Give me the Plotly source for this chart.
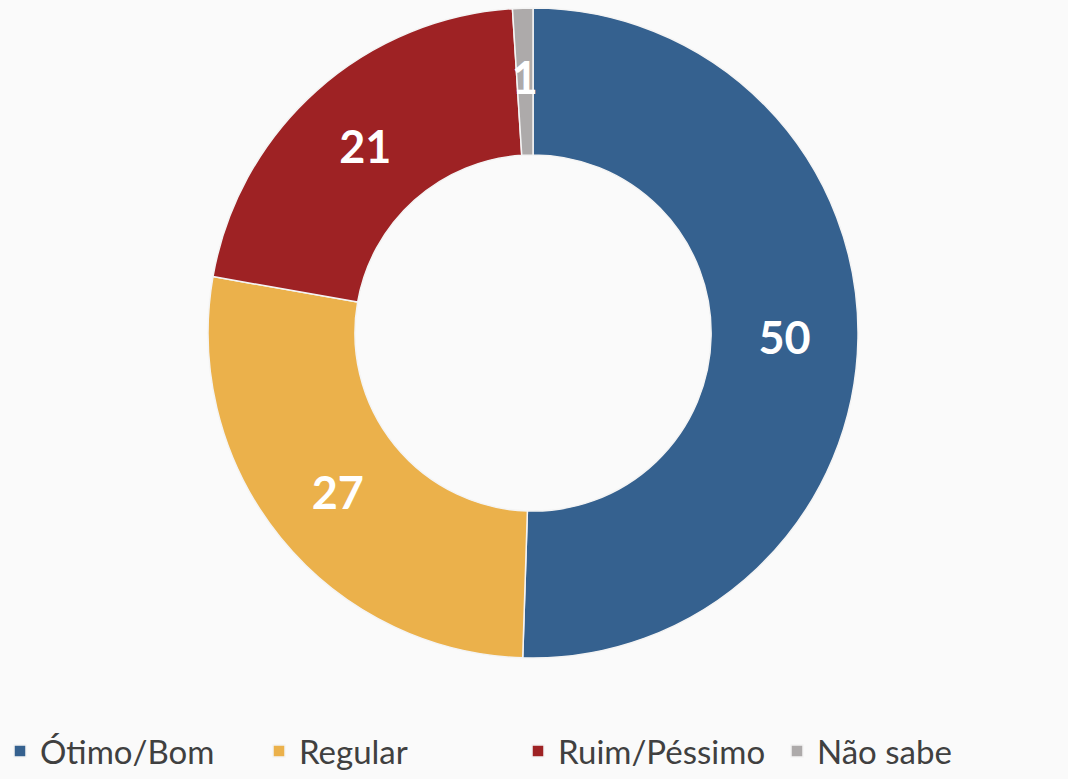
import plotly.graph_objects as go

categorias = ["Ótimo/Bom", "Regular", "Ruim/Péssimo", "Não sabe"]
valores = [50, 27, 21, 1]
cores = ["#35618F", "#EBB14B", "#9E2224", "#ADAAAA"]

dominio = dict(x=[0.1948, 0.8034], y=[0.1553, 0.9897])
# anel estreito no meio da rosca, usado só para posicionar o rótulo da fatia fina
dominio_meio = dict(x=[0.2519, 0.7463], y=[0.2336, 0.9114])
fonte_rotulo = dict(family="Lato", size=45, color="white", weight="bold")

fig = go.Figure()
fig.add_trace(go.Pie(
    labels=categorias,
    values=valores,
    sort=False,
    direction="clockwise",
    rotation=0,
    hole=0.548,
    marker=dict(colors=cores, line=dict(color="#F4F4F4", width=1.5)),
    text=[str(v) if v > 5 else "" for v in valores],
    textinfo="text",
    textposition="inside",
    insidetextorientation="horizontal",
    textfont=fonte_rotulo,
    domain=dominio,
))
fig.add_trace(go.Pie(
    labels=categorias,
    values=valores,
    sort=False,
    direction="clockwise",
    rotation=0,
    hole=0.83,
    marker=dict(colors=["rgba(0,0,0,0)"] * 4, line=dict(width=0)),
    text=[str(v) if v <= 5 else "" for v in valores],
    textinfo="text",
    textposition="inside",
    insidetextorientation="horizontal",
    textfont=fonte_rotulo,
    domain=dominio_meio,
    showlegend=False,
    hoverinfo="skip",
))

fig.update_layout(
    width=1068,
    height=779,
    margin=dict(l=0, r=0, t=0, b=0),
    paper_bgcolor="#FAFAFA",
    plot_bgcolor="#FAFAFA",
    uniformtext=dict(minsize=45, mode="show"),
    legend=dict(
        orientation="h",
        x=0.0,
        y=0.0,
        xanchor="left",
        yanchor="bottom",
        font=dict(family="Lato", size=33, color="#404040"),
        entrywidth=214,
        entrywidthmode="pixels",
        traceorder="normal",
    ),
)

fig.write_html("out.html", config={"displayModeBar": False},
               post_script="document.body.style.margin='0';")
